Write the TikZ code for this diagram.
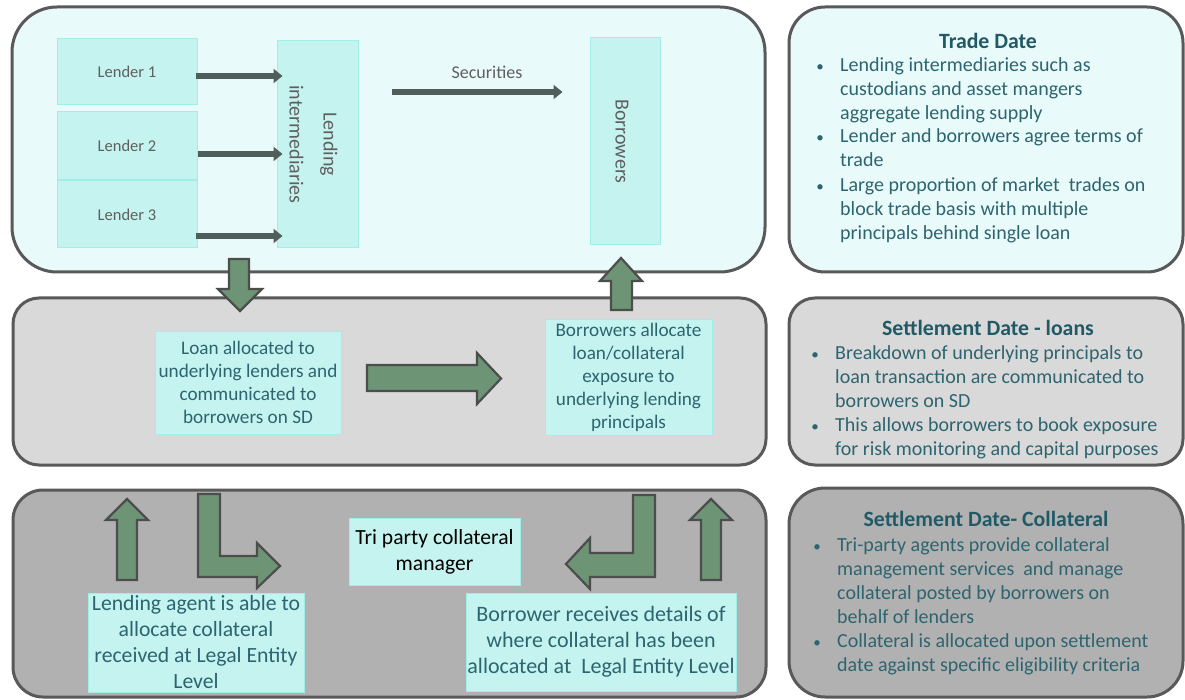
\documentclass[tikz,border=0pt]{standalone}
\usepackage{fontspec}
\setmainfont{Carlito}
\usetikzlibrary{arrows.meta,calc}
\definecolor{pborder}{HTML}{595959}
\definecolor{pcyan}{HTML}{E9FAFA}
\definecolor{pmid}{HTML}{D9D9D9}
\definecolor{pdark}{HTML}{B1B1B1}
\definecolor{ifill}{HTML}{C5F3F0}
\definecolor{idraw}{HTML}{A0EEE5}
\definecolor{tgray}{HTML}{5F5F5F}
\definecolor{tteal}{HTML}{2C6570}
\definecolor{ttitle}{HTML}{215A66}
\definecolor{agreen}{HTML}{6D9575}
\definecolor{aborder}{HTML}{4D4D4D}
\definecolor{adark}{HTML}{4F5E5B}
\begin{document}
\begin{tikzpicture}[x=1pt,y=-1pt,
  panel/.style={draw=pborder,line width=3pt},
  ibox/.style={draw=idraw,fill=ifill,line width=1pt,inner sep=0pt},
  graytxt/.style={text=tgray,font=\fontsize{16.5}{20}\selectfont},
  rottxt/.style={text=tgray,font=\fontsize{20}{34}\selectfont,align=center,rotate=-90,inner sep=0pt},
  midtxt/.style={text=tteal,font=\fontsize{19.2}{23}\selectfont,align=center},
  lowtxt/.style={text=tteal,font=\fontsize{21.7}{26}\selectfont,align=center},
  body/.style={text=tteal,font=\fontsize{20}{24}\selectfont,align=left,inner sep=0pt,anchor=north west},
  bul/.style={text=tteal,font=\fontsize{15}{24}\selectfont,inner sep=0pt,anchor=north},
  ttl/.style={text=ttitle,font=\fontsize{21.8}{24}\selectfont\bfseries,inner sep=0pt},
  darr/.style={draw=adark,line width=6pt,-{Triangle[length=9pt,width=14pt]}},
  blockarr/.style={fill=agreen,draw=aborder,line width=2.2pt,line join=miter}
]
\useasboundingbox (0,0) rectangle (1185,700);
\fill[white] (0,0) rectangle (1185,700);

% ---------- panels ----------
\draw[panel,fill=pcyan,rounded corners=45pt] (12,7) rectangle (765,272);
\draw[panel,fill=pmid,rounded corners=26pt] (13,298) rectangle (766,465);
\draw[panel,fill=pdark,rounded corners=30pt] (13,490) rectangle (766,697);
\draw[panel,fill=pcyan,rounded corners=36pt] (789,7) rectangle (1183,272);
\draw[panel,fill=pmid,rounded corners=26pt] (789,298) rectangle (1183,465);
\draw[panel,fill=pdark,rounded corners=36pt] (789,488) rectangle (1183,697);

% ---------- top: trade date ----------
\node[ibox,minimum width=140pt,minimum height=66pt,graytxt] (l1) at (127,72) {Lender 1};
\node[ibox,minimum width=140pt,minimum height=68pt,graytxt] (l2) at (127,146) {Lender 2};
\node[ibox,minimum width=140pt,minimum height=67pt,graytxt] (l3) at (127,214.5) {Lender 3};
\node[ibox,minimum width=81pt,minimum height=207pt] (li) at (317.5,144.5) {};
\node[rottxt] (litxt) at ($(li.center)+(-4,0)$) {Lending\\intermediaries};
\node[ibox,minimum width=70pt,minimum height=207pt] (bor) at (625,141.5) {};
\node[rottxt] (bortxt) at ($(bor.center)+(-3,0)$) {Borrowers};

\draw[darr] ($(l1.east)+(-2,4)$) -- ($(l1.east -| li.west)+(6,4)$);
\draw[darr] ($(l2.east)+(0,8)$) -- ($(l2.east -| li.west)+(6,8)$);
\draw[darr] ($(l3.east)+(-2,21.5)$) -- ($(l3.east -| li.west)+(6,21.5)$);

\coordinate (secA) at ($(li.east |- 0,92)+(33,0)$);
\coordinate (secB) at ($(bor.west |- 0,92)+(-27,0)$);
\draw[darr] (secA) -- (secB);
\node[graytxt,font=\fontsize{18}{20}\selectfont] (sec) at ($(secA)!0.5!(secB)+(10,-20)$) {Securities};

% ---------- middle: settlement loans ----------
\node[ibox,minimum width=186pt,minimum height=103pt,midtxt] (loan) at (248,382.5)
  {Loan allocated to\\underlying lenders and\\communicated to\\borrowers on SD};
\node[ibox,minimum width=167pt,minimum height=115pt,midtxt] (balloc) at (628.5,377.5)
  {Borrowers allocate\\loan/collateral\\exposure to\\underlying lending\\principals};

% block arrows
\draw[blockarr] (229,259) -- (249,259) -- (249,289) -- (262,289) -- (240,311) -- (218,289) -- (229,289) -- cycle;
\draw[blockarr] (611,310) -- (611,281) -- (600,281) -- (621,258) -- (642,281) -- (632,281) -- (632,310) -- cycle;
\draw[blockarr] (367,365) -- (477,365) -- (477,353) -- (501,378.5) -- (477,404) -- (477,391) -- (367,391) -- cycle;

% ---------- bottom: settlement collateral ----------
\node[ibox,minimum width=216pt,minimum height=99pt,lowtxt] (lagent) at (196,642.5)
  {Lending agent is able to\\allocate collateral\\received at Legal Entity\\Level};
\node[ibox,minimum width=171pt,minimum height=67pt,lowtxt,text=black,font=\fontsize{21.6}{26}\selectfont] (tri) at (434.5,551.5)
  {Tri party collateral\\manager};
\node[ibox,minimum width=270pt,minimum height=98pt,lowtxt,font=\fontsize{22}{26}\selectfont] (brec) at (601,642)
  {Borrower receives details of\\where collateral has been\\allocated at\ \ Legal Entity Level};

\draw[blockarr] (117,580) -- (117,520) -- (106,520) -- (127,499) -- (148,520) -- (137,520) -- (137,580) -- cycle;
\draw[blockarr] (198,494) -- (220,494) -- (220,556) -- (257,556) -- (257,543) -- (280,566) -- (257,588) -- (257,577) -- (198,577) -- cycle;
\draw[blockarr] (655,495) -- (655,577) -- (590,577) -- (590,589) -- (566,564) -- (590,538) -- (590,553) -- (633,553) -- (633,495) -- cycle;
\draw[blockarr] (701,580) -- (701,520) -- (690,520) -- (711,499) -- (732,520) -- (721,520) -- (721,580) -- cycle;

% ---------- right column ----------
\node[ttl] (tdt) at (988,41) {Trade Date};
\node[bul] (tdb1) at (820,55) {\strut•};
\node[body] (td1) at (840,55) {\strut Lending intermediaries such as\\custodians and asset mangers\\aggregate lending supply};
\node[bul] (tdb2) at (820,126) {\strut•};
\node[body] (td2) at (840,126) {\strut Lender and borrowers agree terms of\\trade};
\node[bul] (tdb3) at (820,175) {\strut•};
\node[body] (td3) at (840,175) {\strut Large proportion of market\ \ trades on\\block trade basis with multiple\\principals behind single loan};

\node[ttl] (sdl) at (988,328) {Settlement Date - loans};
\node[bul] (sdb1) at (815,342) {\strut•};
\node[body] (sd1) at (835,342) {\strut Breakdown of underlying principals to\\loan transaction are communicated to\\borrowers on SD};
\node[bul] (sdb2) at (815,414) {\strut•};
\node[body] (sd2) at (835,414) {\strut This allows borrowers to book exposure\\for risk monitoring and capital purposes};

\node[ttl] (sdc) at (986,519) {Settlement Date- Collateral};
\node[bul] (scb1) at (817,534) {\strut•};
\node[body] (sc1) at (837,534) {\strut Tri-party agents provide collateral\\management services\ \ and manage\\collateral posted by borrowers on\\behalf of lenders};
\node[bul] (scb2) at (817,630) {\strut•};
\node[body] (sc2) at (837,630) {\strut Collateral is allocated upon settlement\\date against specific eligibility criteria};
\end{tikzpicture}
\end{document}
